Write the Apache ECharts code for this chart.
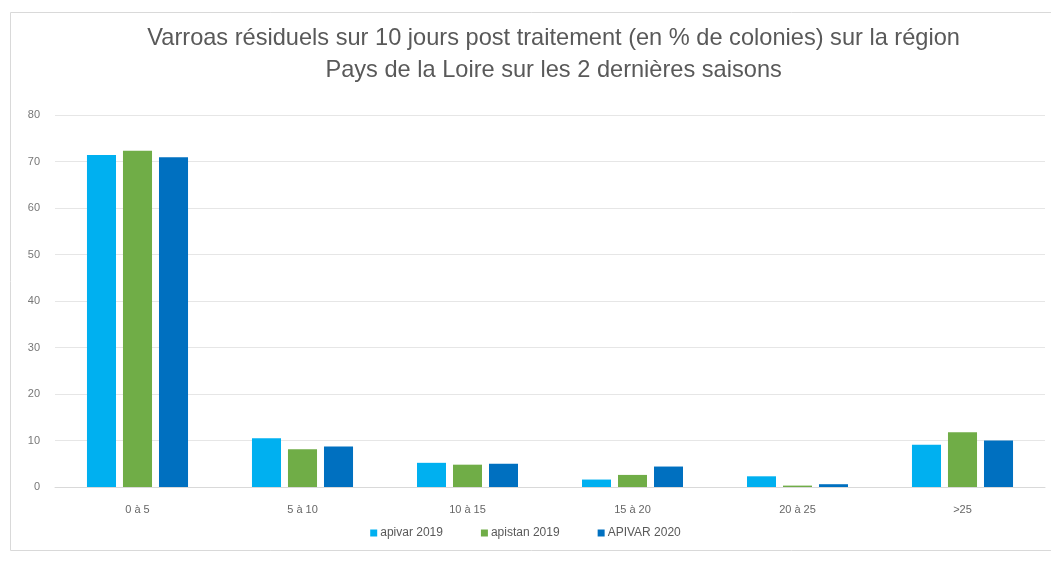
<!DOCTYPE html>
<html><head><meta charset="utf-8">
<script src="https://cdn.jsdelivr.net/npm/echarts@6/dist/echarts.min.js"></script>
<style>html,body{margin:0;padding:0;background:#fff}#c{width:1051px;height:564px}</style>
</head><body><div id="c"></div>
<script>
const categories = ['0 à 5', '5 à 10', '10 à 15', '15 à 20', '20 à 25', '>25'];
const apivar2019 = [71.4, 10.5, 5.2, 1.6, 2.3, 9.1];
const apistan2019 = [72.3, 8.1, 4.8, 2.6, 0.3, 11.8];
const apivar2020 = [70.9, 8.7, 5.0, 4.4, 0.6, 10.0];
const yTicks = [0, 10, 20, 30, 40, 50, 60, 70, 80];

const font = 'Liberation Sans';
const chart = echarts.init(document.getElementById('c'));
const mk = (name, data, color) => ({
  name, type: 'bar', data, barWidth: '17.6%', barGap: '24%',
  itemStyle: { color }
});
chart.setOption({
  animation: false,
  title: {
    text: 'Varroas résiduels sur 10 jours post traitement (en % de colonies) sur la région\nPays de la Loire sur les 2 dernières saisons',
    left: '52.2%', textAlign: 'center', top: 17,
    textStyle: { fontFamily: font, fontSize: 23.6, fontWeight: 'normal', color: '#595959', lineHeight: 32 }
  },
  graphic: [{ type: 'rect', shape: { x: 10.5, y: 12.5, width: 1050, height: 538 },
    style: { fill: 'none', stroke: '#d9d9d9', lineWidth: 1 }, silent: true }],
  legend: {
    bottom: 20, left: 'center', itemWidth: 7, itemHeight: 7, itemGap: 38,
    icon: 'rect',
    textStyle: { fontFamily: font, fontSize: 12, color: '#595959', padding: [0, 0, 0, -2] },
    data: ['apivar 2019', 'apistan 2019', 'APIVAR 2020']
  },
  grid: { left: 55, right: 6, top: 115, bottom: 77 },
  xAxis: {
    type: 'category', data: categories,
    axisLine: { lineStyle: { color: '#d9d9d9' } },
    axisTick: { show: false },
    axisLabel: { fontFamily: font, fontSize: 11, color: '#666', margin: 17 }
  },
  yAxis: {
    type: 'value', min: yTicks[0], max: yTicks[yTicks.length - 1], interval: 10,
    axisLine: { show: false }, axisTick: { show: false },
    splitLine: { lineStyle: { color: '#e6e6e6' } },
    axisLabel: { fontFamily: font, fontSize: 11, color: '#777', margin: 15,
      formatter: v => yTicks.includes(v) ? String(v) : '' }
  },
  series: [
    mk('apivar 2019', apivar2019, '#00B0F0'),
    mk('apistan 2019', apistan2019, '#70AD47'),
    mk('APIVAR 2020', apivar2020, '#0070C0')
  ]
});
</script></body></html>
